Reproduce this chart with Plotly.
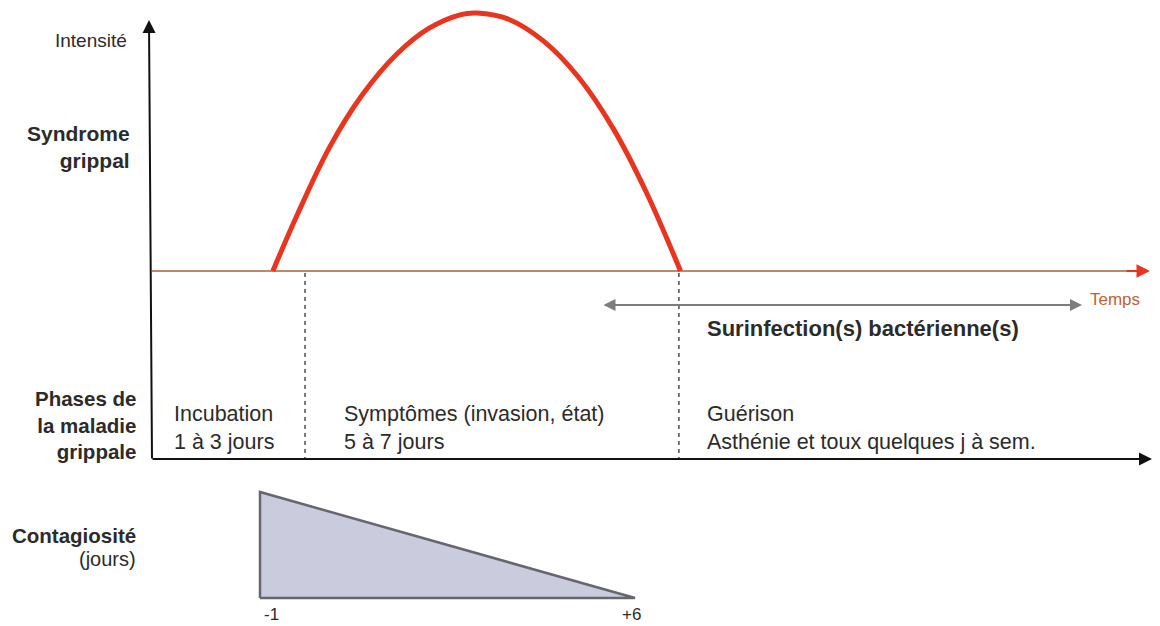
import plotly.graph_objects as go

# ---------------- data ----------------
# Syndrome grippal intensity curve (time in days, intensity 0-100)
curve_days = [-0.76, -0.3, 0.3, 0.9, 1.55, 2.15, 2.75, 3.05, 3.65, 4.3, 4.95, 5.6, 6.2, 6.85]
curve_intensity = [0, 22, 48, 68, 84, 94, 99.4, 100, 97.5, 89, 75, 55, 31, 0]

# phase boundaries (days)
phase_bounds = [-0.16, 6.82]
phase_titles = ["Incubation<br>1 à 3 jours",
                "Symptômes (invasion, état)<br>5 à 7 jours",
                "Guérison<br>Asthénie et toux quelques j à sem."]

# contagiosity triangle (days, relative level)
contag_days = [-1, -1, 6, -1]
contag_level = [0, 100, 0, 0]
contag_ticks = ["-1", "+6"]

# ---------------- geometry helpers (layout only) ----------------
W, H = 1160, 626
OFF = 8                      # default page body margin
FW, FH = W - OFF, H - OFF    # figure size
PX_PER_DAY = 375 / 7.0
def px2x(px):
    return -1 + (px - 260) / PX_PER_DAY
def px2y(py):            # intensity axis
    return (271 - py) / 2.58
def px2c(py):            # contagiosity axis
    return (598 - py) / 1.06
def xp(px):
    return (px - OFF) / FW
def yp(py):
    return 1 - (py - OFF) / FH

TXT = "#2b2b2b"
FONT = "Liberation Sans, Arial, sans-serif"

fig = go.Figure()

# dashed phase boundaries
for b in phase_bounds:
    fig.add_trace(go.Scatter(x=[b, b], y=[px2y(273), px2y(458)], mode="lines",
                             line=dict(color="#333333", width=1.3, dash="4px,4px"),
                             hoverinfo="skip", showlegend=False))

# time axis (brown) line
fig.add_trace(go.Scatter(x=[px2x(152), px2x(1135)], y=[0, 0], mode="lines",
                         line=dict(color="#a8603a", width=1.6),
                         hoverinfo="skip", showlegend=False))

# red intensity curve
fig.add_trace(go.Scatter(x=curve_days, y=curve_intensity, mode="lines",
                         line=dict(color="#e8351f", width=5, shape="spline", smoothing=1.0),
                         hoverinfo="skip", showlegend=False))

# contagiosity triangle
fig.add_trace(go.Scatter(x=contag_days, y=contag_level, mode="lines", yaxis="y2",
                         fill="toself", fillcolor="#cacbdc",
                         line=dict(color="#66666e", width=2.5),
                         hoverinfo="skip", showlegend=False))

ann = []
def arrow(x_tip, y_tip, x_tail, y_tail, color, width, side="end", size=1.0):
    ann.append(dict(x=x_tip, y=y_tip, ax=x_tail, ay=y_tail, xref="x", yref="y",
                    axref="x", ayref="y", showarrow=True, arrowhead=2, startarrowhead=2,
                    arrowside=side, arrowsize=size, startarrowsize=size,
                    arrowwidth=width, arrowcolor=color, text=""))

# vertical intensity axis
arrow(px2x(149), px2y(20), px2x(152), px2y(460), "#111111", 2, size=1.3)
# bottom phase axis
arrow(px2x(1152), px2y(459), px2x(151), px2y(459), "#111111", 2, size=1.3)
# red arrow head of time axis
arrow(px2x(1150), 0, px2x(1125), 0, "#e8351f", 1.8, size=1.5)
# gray double arrow (surinfection)
arrow(px2x(1082), px2y(305), px2x(602), px2y(305), "#7d7d7d", 2, side="end+start", size=1.2)

def text(t, px, py, size, bold=False, anchor="left", color=TXT, yanchor="middle"):
    ann.append(dict(text=("<b>%s</b>" % t) if bold else t, x=xp(px), y=yp(py),
                    xref="paper", yref="paper", xanchor=anchor, yanchor=yanchor,
                    showarrow=False, align=anchor if anchor != "center" else "center",
                    font=dict(family=FONT, size=size, color=color)))

text("Intensité", 129, 41, 19, anchor="right")
text("Syndrome<br>grippal", 132, 147, 21, bold=True, anchor="right")
text("Phases de<br>la maladie<br>grippale", 138, 425, 20.5, bold=True, anchor="right")
text("Contagiosité", 138, 535, 20.5, bold=True, anchor="right")
text("(jours)", 138, 559, 20, anchor="right")

phase_px = [172, 342, 705]
for t, p in zip(phase_titles, phase_px):
    text(t, p, 428, 21.5)

text("Temps", 1088, 299, 17, color="#c0632e")
text("Surinfection(s) bactérienne(s)", 705, 328, 22, bold=True)

# contagiosity tick labels
text(contag_ticks[0], 271, 614, 17, anchor="center")
text(contag_ticks[1], 631, 614, 17, anchor="center")

fig.update_layout(
    width=FW, height=FH,
    margin=dict(l=0, r=0, t=0, b=0),
    paper_bgcolor="white", plot_bgcolor="white",
    xaxis=dict(range=[px2x(OFF), px2x(W)], visible=False, fixedrange=True),
    yaxis=dict(range=[px2y(H), px2y(OFF)], visible=False, fixedrange=True),
    yaxis2=dict(range=[px2c(H), px2c(OFF)], visible=False, overlaying="y", fixedrange=True),
    annotations=ann,
    showlegend=False,
)

fig.write_html("out.html")
